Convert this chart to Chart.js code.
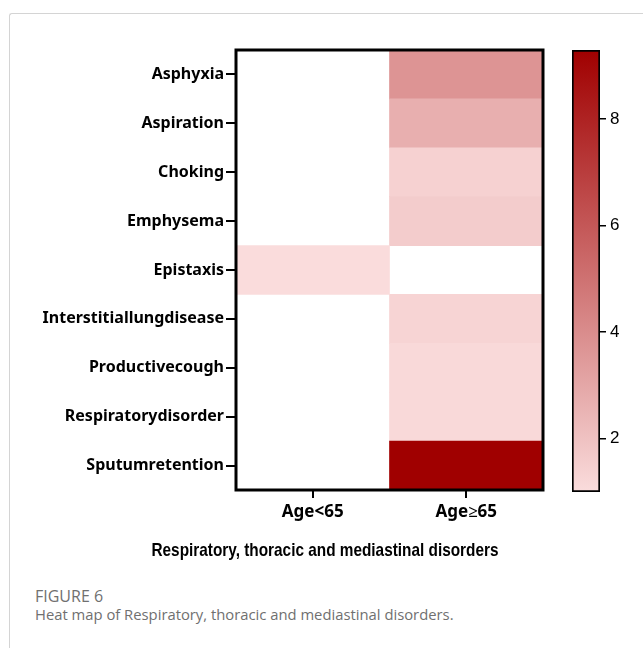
<!DOCTYPE html>
<html>
<head>
<meta charset="utf-8">
<script src="https://cdn.jsdelivr.net/npm/chart.js@4"></script>
<style>
  body { margin: 0; background: #fff; width: 643px; height: 648px; overflow: hidden; position: relative; }
  #card { position: absolute; left: 9px; top: 13px; width: 660px; height: 660px; border-left: 1px solid #d4d4d4; border-top: 1px solid #d4d4d4; border-top-left-radius: 3px; }
  #heat { position: absolute; left: 0; top: 0; }
  #scale { position: absolute; left: 560px; top: 0; }
  #xtitle { position: absolute; left: 0; width: 650px; top: 539px; text-align: center; font-family: "Liberation Sans", Arial, sans-serif; font-weight: bold; font-size: 18.5px; color: #000; transform: scaleX(0.83); }
  #figlabel { position: absolute; left: 35px; top: 585px; font-family: "Open Sans", sans-serif; font-size: 16px; color: #707070; }
  #caption { position: absolute; left: 35px; top: 604px; font-family: "Open Sans", sans-serif; font-size: 14.8px; color: #707070; }
</style>
</head>
<body>
<div id="card"></div>
<canvas id="heat" width="643" height="580"></canvas>
<canvas id="scale" width="83" height="580"></canvas>
<div id="xtitle">Respiratory, thoracic and mediastinal disorders</div>
<div id="figlabel">FIGURE 6</div>
<div id="caption">Heat map of Respiratory, thoracic and mediastinal disorders.</div>
<script>
// rows and columns of the heat map
const symptoms = ['Asphyxia', 'Aspiration', 'Choking', 'Emphysema', 'Epistaxis',
    'Interstitiallungdisease', 'Productivecough', 'Respiratorydisorder', 'Sputumretention'];
const ageGroups = ['Age<65', 'Age\u226565'];

// cell values (null = empty / white cell)
const under65 = [null, null, null, null, 1.0, null, null, null, null];
const over65 = [3.7, 2.7, 1.4, 1.6, null, 1.3, 1.1, 1.1, 9.3];

// colour scale
const colorMin = 1;
const colorMax = 9.3;
const colorTicks = [2, 4, 6, 8];

function heatColor(v) {
    const t = (v - colorMin) / (colorMax - colorMin);
    const lo = [250, 220, 220], hi = [160, 0, 0];
    const c = lo.map((l, i) => Math.round(l + (hi[i] - l) * t));
    return `rgb(${c.join(',')})`;
}

// black frame round the heat map
const framePlugin = {
    id: 'frame',
    afterDatasetsDraw(chart) {
        const { ctx, chartArea: a } = chart;
        ctx.save();
        ctx.strokeStyle = '#000';
        ctx.lineWidth = 3;
        ctx.strokeRect(a.left, a.top, a.right - a.left, a.bottom - a.top);
        ctx.restore();
    }
};

new Chart(document.getElementById('heat'), {
    type: 'bar',
    data: {
        labels: symptoms,
        datasets: [
            {
                label: ageGroups[0],
                data: under65.map(v => v == null ? null : [0, 1]),
                backgroundColor: ctx => heatColor(under65[ctx.dataIndex] ?? colorMin)
            },
            {
                label: ageGroups[1],
                data: over65.map(v => v == null ? null : [1, 2]),
                backgroundColor: ctx => heatColor(over65[ctx.dataIndex] ?? colorMin)
            }
        ]
    },
    options: {
        indexAxis: 'y',
        responsive: false,
        animation: false,
        layout: { padding: { top: 50, right: 100, bottom: 16 } },
        plugins: { legend: { display: false }, tooltip: { enabled: false } },
        datasets: { bar: { barPercentage: 1, categoryPercentage: 1, borderWidth: 0 } },
        scales: {
            y: {
                stacked: true,
                border: { display: false },
                grid: { offset: false, drawOnChartArea: false, color: '#000', lineWidth: 2, tickLength: 10 },
                ticks: { color: '#000', font: { family: 'Noto Sans', weight: 'bold', size: 16 }, padding: 2 },
                afterFit: s => { s.width = 236; }
            },
            x: {
                type: 'linear',
                min: 0,
                max: 2,
                border: { display: false },
                grid: { drawOnChartArea: false, color: '#000', lineWidth: 2, tickLength: 8 },
                afterBuildTicks: s => { s.ticks = [{ value: 0.5 }, { value: 1.5 }]; },
                ticks: { color: '#000', font: { family: 'Noto Sans', weight: 'bold', size: 17 }, padding: 4, maxRotation: 0,
                    callback: (v, i) => ageGroups[i] },
                afterFit: s => { s.height = 74; }
            }
        }
    },
    plugins: [framePlugin]
});

// colour bar
new Chart(document.getElementById('scale'), {
    type: 'bar',
    data: {
        labels: [''],
        datasets: [{
            data: [[colorMin, colorMax]],
            backgroundColor: ctx => {
                const chart = ctx.chart;
                if (!chart.chartArea) return heatColor(colorMax);
                const y = chart.scales.y;
                const g = chart.ctx.createLinearGradient(0, y.getPixelForValue(colorMin), 0, y.getPixelForValue(colorMax));
                g.addColorStop(0, heatColor(colorMin));
                g.addColorStop(1, heatColor(colorMax));
                return g;
            },
            borderColor: '#000',
            borderWidth: 2,
            borderSkipped: false,
            barPercentage: 1,
            categoryPercentage: 1
        }]
    },
    options: {
        responsive: false,
        animation: false,
        layout: { padding: { left: 12, top: 50, bottom: 88 } },
        plugins: { legend: { display: false }, tooltip: { enabled: false } },
        scales: {
            x: { display: false },
            y: {
                position: 'right',
                min: colorMin,
                max: colorMax,
                afterBuildTicks: s => { s.ticks = colorTicks.map(v => ({ value: v })); },
                border: { display: false },
                grid: { drawOnChartArea: false, color: '#000', lineWidth: 1.5, tickLength: 6 },
                ticks: { color: '#000', padding: 4, font: { family: 'Liberation Sans', size: 17 } },
                afterFit: s => { s.width = 43; }
            }
        }
    }
});
</script>
</body>
</html>
